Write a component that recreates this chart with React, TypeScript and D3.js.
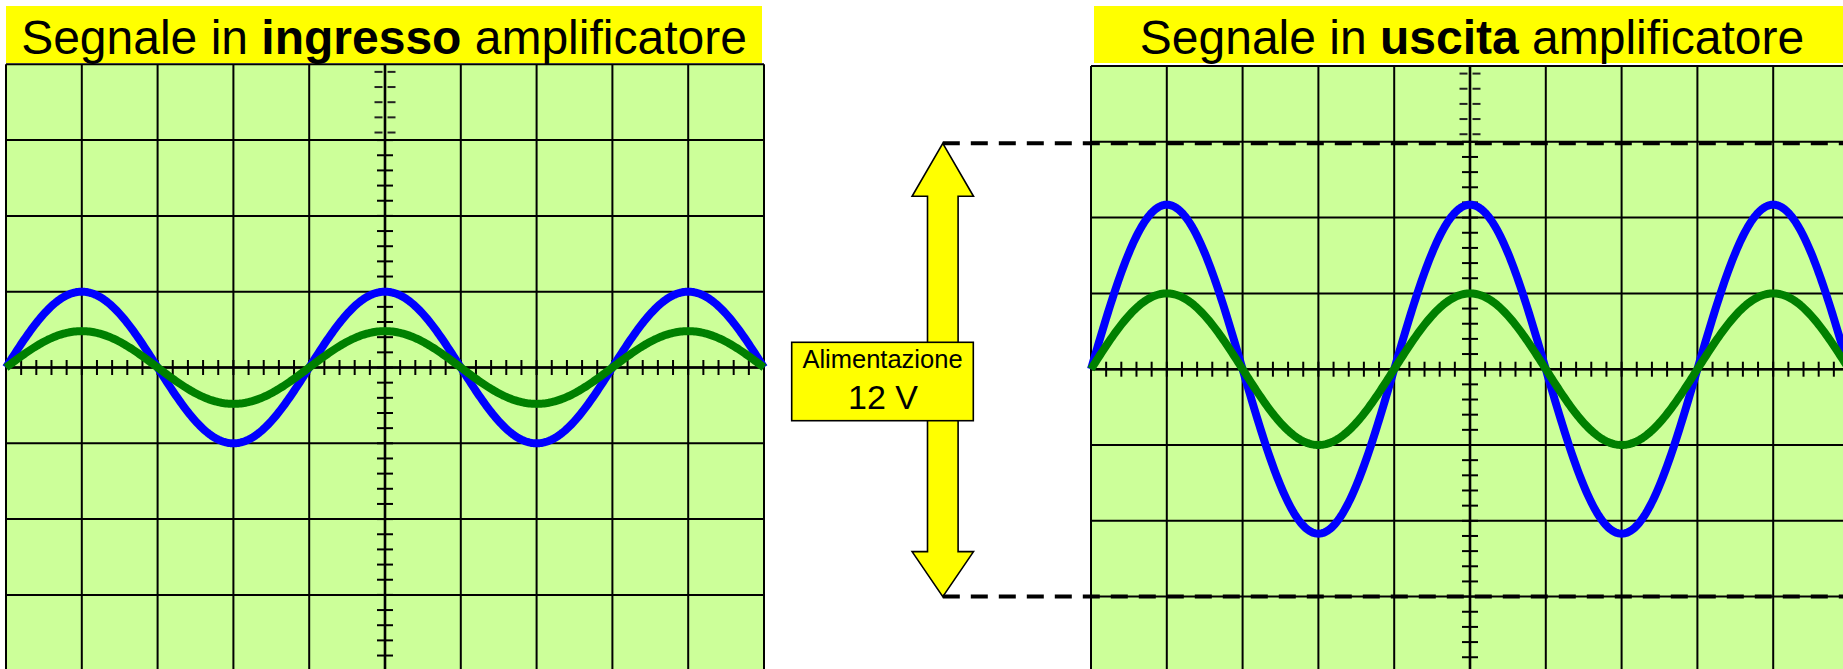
import React from "react";
import * as d3 from "d3";

// ---- data (in screen divisions) ----
const panelKeys = ["ingresso", "uscita"];
const titleBefore = ["Segnale in ", "Segnale in "];
const titleBold = ["ingresso", "uscita"];
const titleAfter = [" amplificatore", " amplificatore"];
const blueAmplitude = [1.0, 2.17]; // peak, divisions
const greenAmplitude = [0.48, 1.0]; // peak, divisions
const periodDivs = [4, 4]; // one period = 4 horizontal divisions
const supplyLabel = ["Alimentazione", "12 V"];
const supplyRangeDivs = [-3, 3]; // ±6 V at 2 V/div on output screen

// ---- layout ----
const W = 1843;
const H = 669;
const DIV = 75.8;
const COLS = 10;
const ROWS = 8;
const origins: [number, number][] = [
  [6, 64.3],
  [1091, 66],
];
const FONT = "'Liberation Sans', Arial, Helvetica, sans-serif";

function Panel({ idx }: { idx: number }) {
  const [x0, y0] = origins[idx];
  const x = d3.scaleLinear().domain([0, COLS]).range([x0, x0 + COLS * DIV]);
  const y = d3.scaleLinear().domain([-ROWS / 2, ROWS / 2]).range([y0 + ROWS * DIV, y0]);
  const samples = d3.range(0, COLS + 0.0001, 0.02);
  const wave = (amp: number) =>
    d3
      .line<number>()
      .x((t) => x(t))
      .y((t) => y(amp * Math.sin((2 * Math.PI * t) / periodDivs[idx])))(samples) || "";

  const vLines = d3.range(0, COLS + 1);
  const hLines = d3.range(-ROWS / 2, ROWS / 2 + 1);
  const hTicks = d3.range(0, COLS + 0.0001, 0.2);
  const vTicks = d3.range(-ROWS / 2, ROWS / 2 - 1 + 0.0001, 0.2);
  const topTicks = d3.range(ROWS / 2 - 1 + 0.1, ROWS / 2, 0.2);
  const cx = x(COLS / 2);
  const cy = y(0);
  return (
    <g>
      <rect x={x(0)} y={y(ROWS / 2)} width={COLS * DIV} height={ROWS * DIV} fill="#CCFF99" />
      {vLines.map((v) => (
        <line key={"v" + v} x1={x(v)} x2={x(v)} y1={y(ROWS / 2)} y2={y(-ROWS / 2)} stroke="#000" strokeWidth={2} />
      ))}
      {hLines.map((v) => (
        <line key={"h" + v} x1={x(0)} x2={x(COLS)} y1={y(v)} y2={y(v)} stroke="#000" strokeWidth={2} />
      ))}
      <line x1={cx} x2={cx} y1={y(ROWS / 2)} y2={y(-ROWS / 2)} stroke="#000" strokeWidth={2.6} />
      <line x1={x(0)} x2={x(COLS)} y1={cy} y2={cy} stroke="#000" strokeWidth={2.6} />
      {hTicks.map((t, i) => (
        <line key={"ht" + i} x1={x(t)} x2={x(t)} y1={cy - 7.5} y2={cy + 7.5} stroke="#000" strokeWidth={2} />
      ))}
      {vTicks.map((t, i) => (
        <line key={"vt" + i} x1={cx - 8} x2={cx + 8} y1={y(t)} y2={y(t)} stroke="#000" strokeWidth={2} />
      ))}
      {topTicks.map((t, i) => (
        <g key={"tt" + i} stroke="#222" strokeWidth={2}>
          <line x1={cx - 10.5} x2={cx - 2.5} y1={y(t)} y2={y(t)} />
          <line x1={cx + 2.5} x2={cx + 10.5} y1={y(t)} y2={y(t)} />
        </g>
      ))}
      <path d={wave(blueAmplitude[idx])} fill="none" stroke="#0000FF" strokeWidth={8} strokeLinejoin="round" />
      <path d={wave(greenAmplitude[idx])} fill="none" stroke="#008000" strokeWidth={8} strokeLinejoin="round" />
    </g>
  );
}

function Title({ idx }: { idx: number }) {
  const [x0] = origins[idx];
  const w = COLS * DIV - 2;
  const bx = idx === 0 ? x0 : x0 + 3;
  return (
    <g>
      <rect x={bx} y={6} width={w} height={57} fill="#FFFF00" />
      <text x={bx + w / 2} y={53.5} textAnchor="middle" fontFamily={FONT} fontSize={48} fill="#000">
        {titleBefore[idx]}
        <tspan fontWeight="bold">{titleBold[idx]}</tspan>
        {titleAfter[idx]}
      </text>
    </g>
  );
}

function Supply() {
  const [, y0R] = origins[1];
  const yR = d3.scaleLinear().domain([-ROWS / 2, ROWS / 2]).range([y0R + ROWS * DIV, y0R]);
  const yTop = yR(supplyRangeDivs[1]) + 1.5;
  const yBot = yR(supplyRangeDivs[0]);
  const ax = 942.8;
  const headH = 53;
  const headW = 30.7;
  const shaftW = 15.3;
  const pts = [
    [ax, yTop],
    [ax + headW, yTop + headH],
    [ax + shaftW, yTop + headH],
    [ax + shaftW, yBot - headH + 8],
    [ax + headW, yBot - headH + 8],
    [ax, yBot],
    [ax - headW, yBot - headH + 8],
    [ax - shaftW, yBot - headH + 8],
    [ax - shaftW, yTop + headH],
    [ax - headW, yTop + headH],
  ];
  const bx0 = 791.7;
  const bx1 = 973.3;
  const by0 = 342.3;
  const by1 = 420.7;
  return (
    <g>
      <polygon points={pts.map((p) => p.join(",")).join(" ")} fill="#FFFF00" stroke="#000" strokeWidth={1.6} strokeLinejoin="miter" />
      <rect x={bx0} y={by0} width={bx1 - bx0} height={by1 - by0} fill="#FFFF00" stroke="#000" strokeWidth={1.6} />
      <text x={(bx0 + bx1) / 2} y={368.3} textAnchor="middle" fontFamily={FONT} fontSize={25.5} fill="#000">
        {supplyLabel[0]}
      </text>
      <text x={(bx0 + bx1) / 2 + 0.5} y={409.3} textAnchor="middle" fontFamily={FONT} fontSize={34} fill="#000">
        {supplyLabel[1]}
      </text>
      {[yTop, yBot].map((yy, i) => (
        <line key={i} x1={ax} x2={W} y1={yy} y2={yy} stroke="#000" strokeWidth={4} strokeDasharray="17 11" />
      ))}
    </g>
  );
}

export default function App() {
  return (
    <svg
      width={W}
      height={H}
      viewBox={`0 0 ${W} ${H}`}
      style={{ position: "absolute", left: 0, top: 0, display: "block", background: "#fff" }}
    >
      {panelKeys.map((k, i) => (
        <Panel key={k} idx={i} />
      ))}
      {panelKeys.map((k, i) => (
        <Title key={"t" + k} idx={i} />
      ))}
      <Supply />
    </svg>
  );
}
